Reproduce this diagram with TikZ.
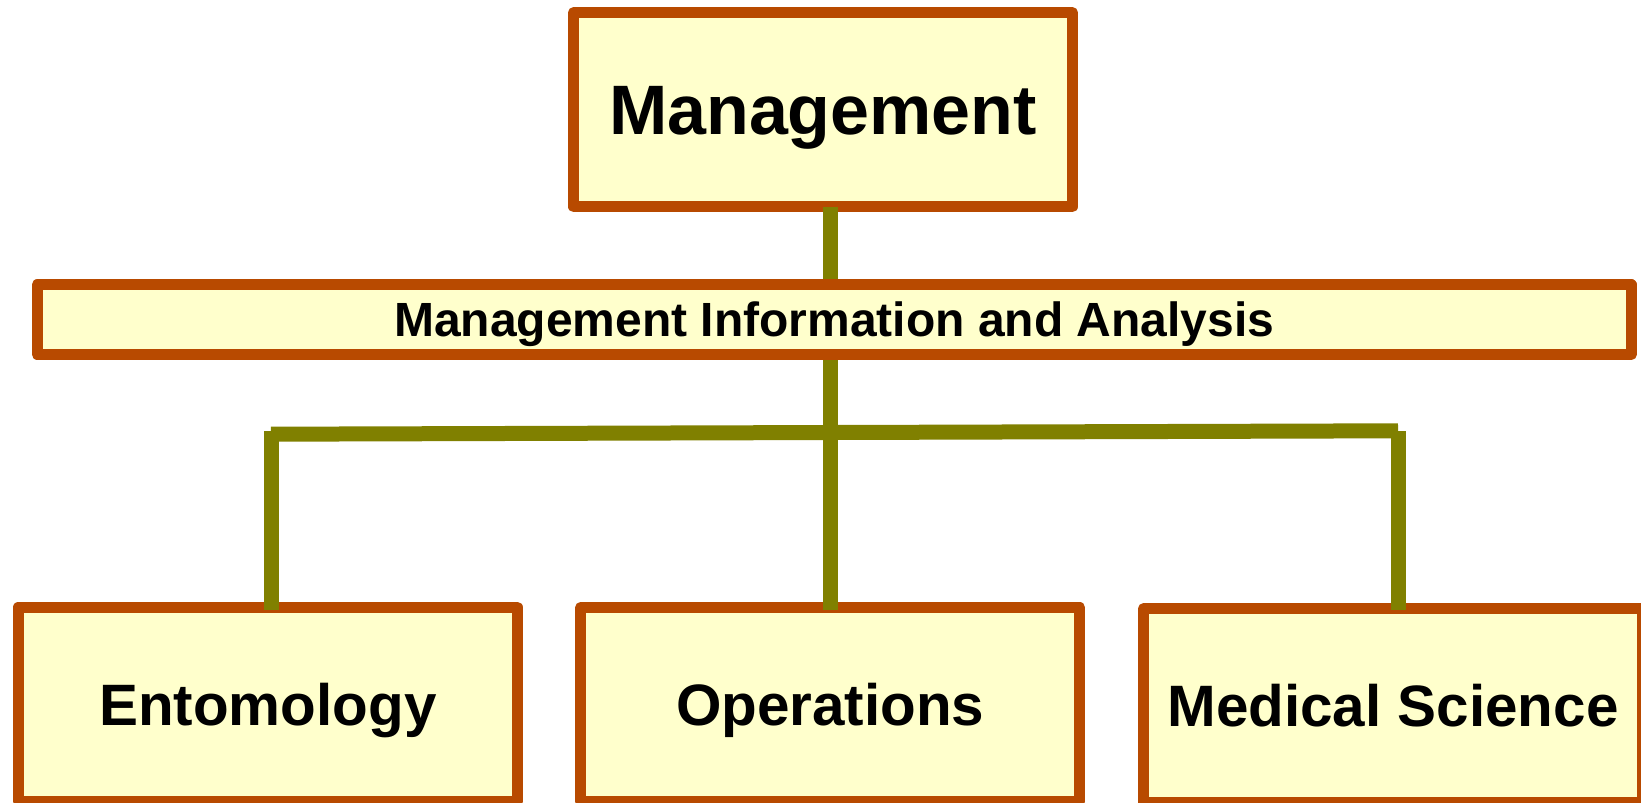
\documentclass[tikz,border=0pt]{standalone}
\usepackage{fontspec}
\setmainfont{Liberation Sans}
\definecolor{boxborder}{RGB}{184,74,0}
\definecolor{boxfill}{RGB}{255,255,204}
\definecolor{connector}{RGB}{128,128,0}
\begin{document}
\begin{tikzpicture}[x=1pt,y=-1pt,
  box/.style={draw=boxborder, fill=boxfill, line width=11pt, line join=round,
    rectangle, inner sep=0pt, text depth=0pt, align=center},
  bigbox/.style={box, minimum width=499pt, minimum height=194pt},
  topfont/.style={font=\fontsize{70}{80}\selectfont\bfseries, text height=50.1pt},
  midfont/.style={font=\fontsize{48}{54}\selectfont\bfseries, text height=34.4pt},
  lowfont/.style={font=\fontsize{58.4}{66}\selectfont\bfseries, text height=41.8pt},
  link/.style={draw=connector, line width=15pt}
]
\clip (0,0) rectangle (1641,803);
\fill[white] (0,0) rectangle (1641,803);

\node[bigbox, topfont] (mgmt) at (823,109.7) {Management};
\node[box, midfont, minimum width=1594pt, minimum height=69.7pt] (mia) at (834.2,319.7) {Management Information and Analysis};
\node[bigbox, lowfont] (ent) at (267.8,704.2) {Entomology};
\node[bigbox, lowfont] (ops) at (830.3,704.5) {Operations};
\node[bigbox, lowfont] (med) at (1393,705.8) {Medical Science};

\coordinate (barL) at (271,434.2);
\coordinate (barR) at (1398,430.8);
\coordinate (dropL) at (271,431);
\coordinate (dropR) at (1398,431);

\draw[link, shorten <=-5.5pt] (mgmt.south -| ops.north) -- (mia.north -| ops.north);
\draw[link, shorten >=-8pt] (mia.south -| ops.north) -- (ops.north);
\draw[link] (barL) -- (barR);
\draw[link, shorten >=-8.5pt] (dropL) -- (dropL |- ent.north);
\draw[link, shorten >=-7pt] (dropR) -- (dropR |- med.north);
\end{tikzpicture}
\end{document}
